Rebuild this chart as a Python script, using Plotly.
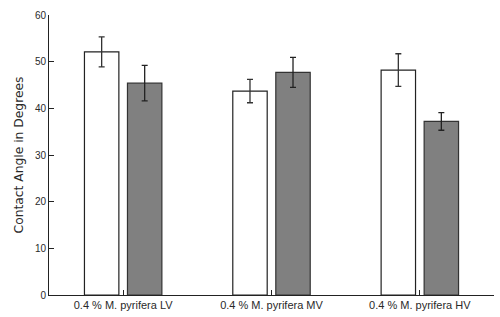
import plotly.graph_objects as go

categories = ["0.4 % M. pyrifera LV", "0.4 % M. pyrifera MV", "0.4 % M. pyrifera HV"]
series1_values = [52.1, 43.7, 48.2]
series1_errors = [3.2, 2.5, 3.5]
series2_values = [45.4, 47.7, 37.2]
series2_errors = [3.8, 3.2, 1.9]
y_ticks = [0, 10, 20, 30, 40, 50, 60]

fig = go.Figure()
fig.add_trace(go.Bar(
    x=categories, y=series1_values,
    marker=dict(color="white", line=dict(color="#222222", width=1.2)),
    error_y=dict(type="data", array=series1_errors, color="#333333", thickness=1.3, width=3),
    showlegend=False,
))
fig.add_trace(go.Bar(
    x=categories, y=series2_values,
    marker=dict(color="#808080", line=dict(color="#333333", width=1.2)),
    error_y=dict(type="data", array=series2_errors, color="#222222", thickness=1.3, width=3),
    showlegend=False,
))

fig.update_layout(
    width=500, height=317,
    margin=dict(l=49, r=6, t=15, b=22),
    paper_bgcolor="white", plot_bgcolor="white",
    barmode="group", bargap=0.42, bargroupgap=0.2,
    font=dict(family="Liberation Sans, Arial, sans-serif", color="#2a2a2a"),
    xaxis=dict(
        type="category", range=[-0.5, 2.5], automargin=False,
        showline=True, linecolor="#222222", linewidth=1,
        ticks="inside", ticklen=5, tickcolor="#222222",
        tickfont=dict(size=11), showgrid=False, zeroline=False,
    ),
    yaxis=dict(
        range=[0, 60], tickvals=y_ticks, automargin=False,
        showline=True, linecolor="#222222", linewidth=1,
        ticks="inside", ticklen=5, tickcolor="#222222",
        tickfont=dict(size=10), showgrid=False, zeroline=False,
        title=dict(text="Contact Angle in Degrees",
                   font=dict(family="DejaVu Sans, sans-serif", size=12.3), standoff=8),
    ),
)

fig.write_html("out.html", config={"displayModeBar": False},
               post_script="document.body.style.margin='0';")
